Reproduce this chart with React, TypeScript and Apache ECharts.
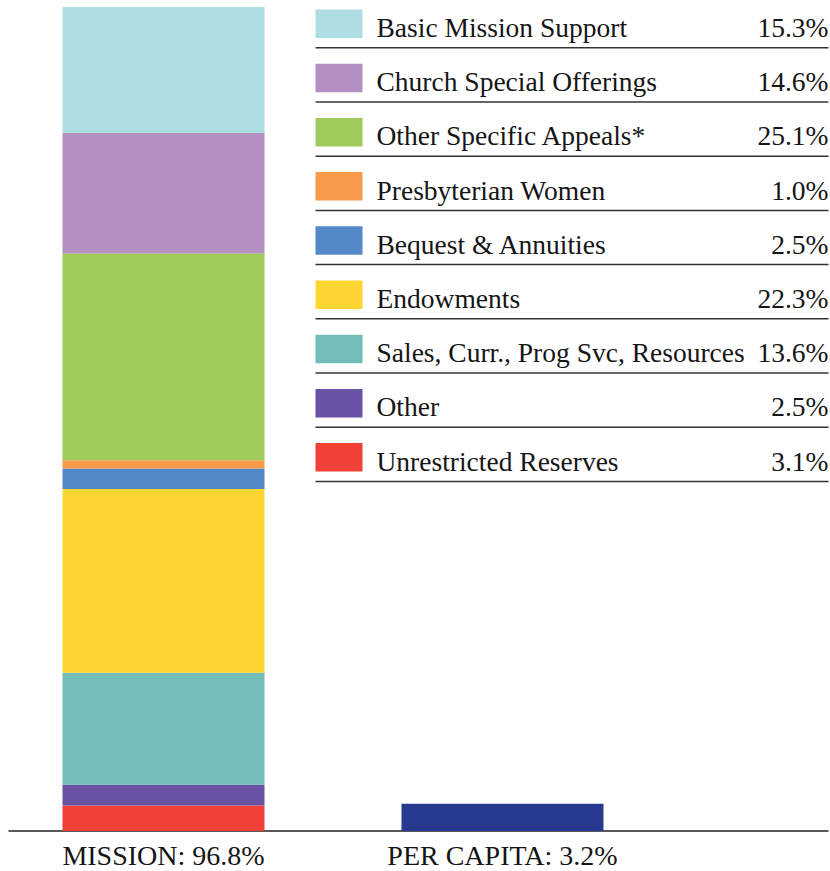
import React, { useEffect, useRef } from "react";
import * as echarts from "echarts";

// Legend / segment data (top to bottom of the mission bar)
const segmentNames = [
  "Basic Mission Support",
  "Church Special Offerings",
  "Other Specific Appeals*",
  "Presbyterian Women",
  "Bequest & Annuities",
  "Endowments",
  "Sales, Curr., Prog Svc, Resources",
  "Other",
  "Unrestricted Reserves",
];
const segmentPercents = [15.3, 14.6, 25.1, 1.0, 2.5, 22.3, 13.6, 2.5, 3.1];
const segmentColors = [
  "#AEDEE3",
  "#B38FC2",
  "#A0CB5B",
  "#F99A4B",
  "#5588C8",
  "#FFD533",
  "#72BDB7",
  "#6952A3",
  "#EF4136",
];

const categories = ["MISSION", "PER CAPITA"];
const categoryTotals = [96.8, 3.2];
const perCapitaColor = "#283A8F";

const FONT = "Liberation Serif";
// the chart canvas is shifted left so the category bands land where the bars are
const SHIFT = 6.5;

export default function App() {
  const ref = useRef<HTMLDivElement>(null);

  useEffect(() => {
    if (!ref.current) return;
    const chart = echarts.init(ref.current, undefined, { renderer: "svg" });

    const missionTotal = categoryTotals[0];
    const series: any[] = [];
    for (let i = segmentNames.length - 1; i >= 0; i--) {
      series.push({
        name: segmentNames[i],
        type: "bar",
        stack: "all",
        barWidth: 202,
        data: [(segmentPercents[i] * missionTotal) / 100, "-"],
        itemStyle: { color: segmentColors[i] },
      });
    }
    series.push({
      name: categories[1],
      type: "bar",
      stack: "all",
      barWidth: 202,
      data: ["-", categoryTotals[1]],
      itemStyle: { color: perCapitaColor },
    });

    const rowH = 54.2;
    const legendEls: any[] = [];
    segmentNames.forEach((name, i) => {
      const y0 = i * rowH;
      legendEls.push({
        type: "rect",
        shape: { x: 315 + SHIFT, y: 9.5 + y0, width: 47, height: 28.5 },
        style: { fill: segmentColors[i] },
      });
      legendEls.push({
        type: "text",
        x: 376 + SHIFT,
        y: 27.5 + y0,
        style: {
          text: name,
          fontFamily: FONT,
          fontSize: 27.5,
          fill: "#151515",
          align: "left",
          verticalAlign: "middle",
        },
      });
      legendEls.push({
        type: "text",
        x: 828 + SHIFT,
        y: 27.5 + y0,
        style: {
          text: segmentPercents[i].toFixed(1) + "%",
          fontFamily: FONT,
          fontSize: 27.5,
          fill: "#151515",
          align: "right",
          verticalAlign: "middle",
        },
      });
      legendEls.push({
        type: "line",
        shape: { x1: 315 + SHIFT, y1: 47.8 + y0, x2: 828 + SHIFT, y2: 47.8 + y0 },
        style: { stroke: "#333", lineWidth: 1.5 },
      });
    });
    legendEls.push({
      type: "line",
      shape: { x1: 8 + SHIFT, y1: 831, x2: 828 + SHIFT, y2: 831 },
      style: { stroke: "#222", lineWidth: 1.5 },
    });

    chart.setOption({
      animation: false,
      grid: { left: 0, width: 678, top: 7, bottom: 40 },
      xAxis: {
        type: "category",
        data: categories.map((c, i) => `${c}: ${categoryTotals[i].toFixed(1)}%`),
        axisLine: { show: false },
        axisTick: { show: false },
        axisLabel: {
          fontFamily: FONT,
          fontSize: 28,
          color: "#151515",
          margin: 24,
          verticalAlign: "middle",
          interval: 0,
        },
      },
      yAxis: {
        type: "value",
        min: 0,
        max: missionTotal,
        show: false,
        splitLine: { show: false },
      },
      series,
      graphic: legendEls,
    });

    return () => chart.dispose();
  }, []);

  return (
    <div
      ref={ref}
      style={{
        position: "fixed",
        left: -SHIFT,
        top: 0,
        width: 830 + SHIFT,
        height: 871,
        background: "#fff",
      }}
    />
  );
}
